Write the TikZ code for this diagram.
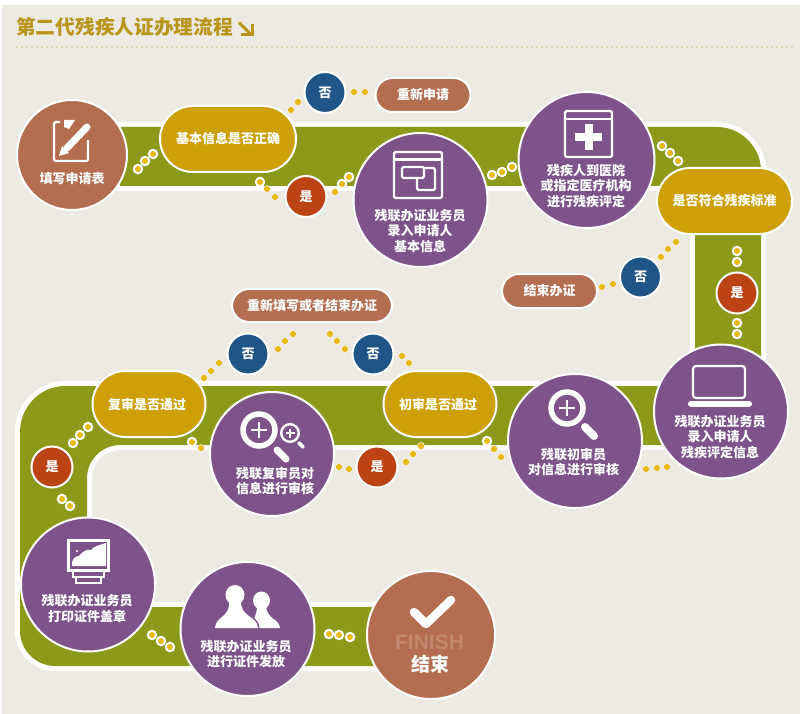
\documentclass[tikz,border=0pt]{standalone}
\usepackage{fontspec}
\setmainfont{Noto Sans CJK SC}
\newfontfamily\finishfont{Liberation Sans}
\usepackage{xcolor}
\usepackage{tikz}
\definecolor{figPanel}{RGB}{236,234,227}
\definecolor{figBand}{RGB}{141,153,24}
\definecolor{figPurple}{RGB}{125,83,137}
\definecolor{figBrown}{RGB}{179,109,80}
\definecolor{figGold}{RGB}{204,160,6}
\definecolor{figBlue}{RGB}{31,85,135}
\definecolor{figRed}{RGB}{188,67,19}
\definecolor{figDot}{RGB}{232,185,15}
\definecolor{figTitle}{RGB}{184,150,28}
\tikzset{
  lbl/.style={text=white, font=\fontsize{13}{15.3}\selectfont\bfseries, align=center, inner sep=0pt},
  circ/.style={circle, draw=white, line width=2pt, inner sep=0pt, lbl},
  proc/.style={circ, fill=figPurple, minimum size=134pt},
  term/.style={circ, fill=figBrown},
  nobub/.style={circ, fill=figBlue, minimum size=41pt},
  yesbub/.style={circ, fill=figRed, minimum size=41pt},
  ask/.style={rectangle, rounded corners=33pt, draw=white, line width=2pt, fill=figGold, lbl, minimum height=66pt},
  outpill/.style={rectangle, rounded corners=17pt, draw=white, line width=2pt, fill=figBrown, lbl, minimum height=34pt},
  ringdot/.style={fill=figDot, draw=white, line width=2pt},
  plaindot/.style={fill=figDot, draw=figPanel!60!white, line width=0.6pt},
  icon/.style={draw=white, line width=2.2pt, rounded corners=1.5pt},
}
\begin{document}
\begin{tikzpicture}[x=1pt, y=-1pt]
\useasboundingbox (0,0) rectangle (800,714);
\fill[figPanel] (2,5) rectangle (800,714);
% title
\node[text=figTitle, font=\fontsize{19.7}{20}\selectfont\bfseries, anchor=west, inner sep=0pt] (title) at (16,27) {第二代残疾人证办理流程};
\draw[figTitle, line width=3pt] (239,22.5) -- (250,33.5);
\draw[figTitle, line width=3pt] (241,35) -- (252,35) -- (252,24);
\draw[figPanel!75!figTitle, line width=2.4pt, dash pattern=on 2.4pt off 2.6pt] (16,47) -- (796,47);
% olive band
\fill[figBand, preaction={draw=white, line width=10pt}]
  (120,127) -- (717,127) .. controls (741,127) and (761,147) .. (761,171)
  -- (761,445) -- (120,445) .. controls (102,445) and (87,460) .. (87,478)
  -- (87,607) -- (400,607) -- (400,666) -- (55,666)
  .. controls (36,666) and (20,650) .. (20,631) -- (20,432)
  .. controls (20,407) and (40,386) .. (65,386)
  -- (695,386) -- (695,186) -- (120,186) -- cycle;
% nodes along the first row
\node[term, minimum size=110pt] (fillform) at (72,155) {};
\node[lbl] (fillformtxt) at (72,179) {填写申请表};
\node[ask, minimum width=136pt] (askinfo) at (228,139) {基本信息是否正确};
\node[nobub] (noA) at (325,92.5) {否};
\node[yesbub] (yesA) at (306,196.5) {是};
\node[outpill, minimum width=95pt] (reapply) at (423,95) {重新申请};
\node[proc] (inputbase) at (420.5,200) {};
\node[lbl] (inputbasetxt) at (420,231) {残联办证业务员\\录入申请人\\基本信息};
\node[proc, minimum size=136pt] (hospital) at (586.5,160) {};
\node[lbl] (hospitaltxt) at (586,186) {残疾人到医院\\或指定医疗机构\\进行残疾评定};
\node[ask, minimum width=135pt] (askstd) at (724.5,201) {是否符合残疾标准};
\node[nobub] (noB) at (640.5,277) {否};
\node[outpill, minimum width=95pt] (stopcert) at (549.5,291) {结束办证};
\node[yesbub] (yesB) at (737,293) {是};
% second row
\node[proc] (inputeval) at (721,411.5) {};
\node[lbl] (inputevaltxt) at (720,437) {残联办证业务员\\录入申请人\\残疾评定信息};
\node[proc] (firstcheck) at (575,441) {};
\node[lbl] (firstchecktxt) at (573.5,462) {残联初审员\\对信息进行审核};
\node[ask, minimum width=113pt] (askfirst) at (440,404) {\hspace*{-4pt}初审是否通过};
\node[yesbub] (yesC) at (377,467) {是};
\node[nobub] (noC) at (373,354) {否};
\node[outpill, minimum width=160pt, minimum height=33pt] (refill) at (312,305.5) {重新填写或者结束办证};
\node[nobub] (noD) at (248,354) {否};
\node[proc, minimum size=124pt] (secondcheck) at (272,454) {};
\node[lbl] (secondchecktxt) at (275,481) {残联复审员对\\信息进行审核};
\node[ask, minimum width=113pt] (asksecond) at (149,404) {\hspace*{-4pt}复审是否通过};
\node[yesbub] (yesD) at (52,467) {是};
% last row
\node[proc] (printcert) at (88,584.5) {};
\node[lbl] (printcerttxt) at (87,608.5) {残联办证业务员\\打印证件盖章};
\node[proc] (issuecert) at (247.5,629) {};
\node[lbl] (issuecerttxt) at (246,654) {残联办证业务员\\进行证件发放};
\node[term, minimum size=128pt] (finish) at (431,635) {};
\node[text=figBrown!82!white, font=\fontsize{21}{21}\selectfont\bfseries\finishfont, inner sep=0pt] (finishen) at (429.5,642.5) {FINISH};
\node[lbl, font=\fontsize{19}{20}\selectfont\bfseries] (finishcn) at (430,664) {结束};
% dots with a white ring
\foreach \x/\y in {138/169,145/161,153/154,260/182,342/184,349/177,492/175,502/172,512/167,
  662/146,670/153,678/161,737/251,737/262,737/323,737/334,487/441,192/442,
  73/443,80/435,88/427,62/499,70/506,152/635,161/641,170/647,329/634,339/635,350/637}
  \filldraw[ringdot] (\x,\y) circle (4.2);
% dots on the plain ground
\foreach \x/\y in {291/110,298/102,354/92,365/92,267/189,275/197,335/192,676/242,668/249,661/257,
  613/284,602/287,646/469,657/468,667/467,494/449,501/457,409/363,402/356,421/446,413/454,406/462,
  330/334,337/341,345/349,293/334,285/341,278/349,204/378,211/371,219/363,201/448,339/467,349/469}
  \filldraw[plaindot] (\x,\y) circle (3.5);
% form and pencil
\draw[icon] (60,122) -- (54,122) -- (54,161) -- (88,161) -- (88,140);
\fill[white] (64,120) -- (75,120) -- (69,129) -- (64,127) -- cycle;
\draw[white, line width=7pt, line cap=round] (67,148) -- (87,127);
\fill[white] (59,156) -- (62,146) -- (69,153) -- cycle;
% window with two panes
\draw[icon] (394,152) rectangle (442,198);
\draw[white, line width=2.2pt] (394,159.5) -- (442,159.5);
\draw[icon] (417,168) rectangle (435,190);
\draw[icon, fill=figPurple] (402,167) rectangle (424,178);
% window with a cross
\draw[icon] (565,111) rectangle (612,157);
\draw[white, line width=2.2pt] (565,119) -- (612,119);
\draw[white, line width=8pt] (575,137) -- (602,137);
\draw[white, line width=8pt] (588.5,124) -- (588.5,150);
% laptop
\draw[icon, rounded corners=3pt] (693,366) rectangle (745,398);
\draw[white, line width=6pt, line cap=round] (691,403.5) -- (749,403.5);
% one magnifier
\draw[white, line width=5.5pt] (567,408) circle (16);
\draw[white, line width=2.6pt] (559,408) -- (575,408);
\draw[white, line width=2.6pt] (567,400) -- (567,416);
\draw[white, line width=8pt, line cap=round] (585,427) -- (594,436);
% two magnifiers
\draw[white, line width=5.5pt] (259,430) circle (16);
\draw[white, line width=2.6pt] (251,430) -- (267,430);
\draw[white, line width=2.6pt] (259,422) -- (259,438);
\draw[white, line width=7pt, line cap=round] (277,450) -- (286,459);
\draw[white, line width=2.4pt] (290,433) circle (8.8);
\draw[white, line width=1.6pt] (285.5,433) -- (294.5,433);
\draw[white, line width=1.6pt] (290,428.5) -- (290,437.5);
\draw[white, line width=3.6pt, line cap=round] (299,443) -- (303,447);
% monitor on a stand
\draw[white, line width=3pt] (68.5,540.5) rectangle (108.5,570.5);
\fill[white] (72,566) .. controls (71,560) and (75,556) .. (79,556)
  .. controls (83,551) and (87,549) .. (91,550)
  .. controls (94,546) and (100,545) .. (106,543) -- (106,566) -- cycle;
\fill[white] (77,551) circle (1.2);
\draw[white, line width=2.6pt] (73,571) -- (73,577) -- (104,577) -- (104,571);
\draw[white, line width=2.6pt] (76,577) -- (76,583) -- (101,583) -- (101,577);
% two people
\fill[white] (261.5,600.5) ellipse (8.5 and 9);
\fill[white] (252,628) -- (280,628) .. controls (279,618) and (267,620) .. (266,606) -- (257,606) .. controls (257,616) and (253,618) .. (252,628) -- cycle;
\fill[white, preaction={draw=figPurple, line width=3pt}] (215,628) .. controls (216,615) and (231,618) .. (229,600) -- (241,600) .. controls (240,618) and (257,615) .. (258,628) -- cycle;
\fill[white] (235,595) ellipse (9.5 and 10);
% check mark
\draw[white, line width=8.5pt, line cap=round, line join=round] (414,612) -- (426,624) -- (451,600);
\end{tikzpicture}
\end{document}
